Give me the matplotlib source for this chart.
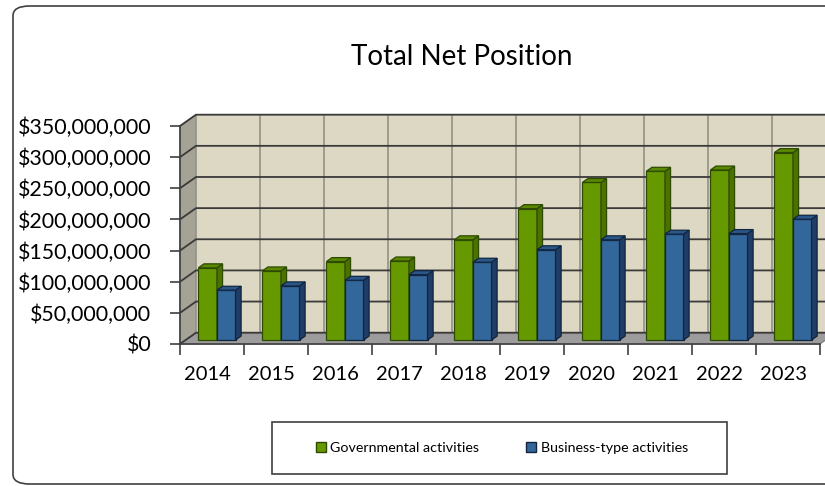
import matplotlib.pyplot as plt
from matplotlib.patches import Polygon, Rectangle, FancyBboxPatch, Patch
import numpy as np

years = ["2014", "2015", "2016", "2017", "2018", "2019", "2020", "2021", "2022", "2023"]
governmental = [116e6, 111e6, 126e6, 127e6, 161e6, 211e6, 253e6, 271e6, 273e6, 301e6]
business = [80e6, 87e6, 96e6, 105e6, 125e6, 145e6, 161e6, 170e6, 171e6, 194e6]
y_ticks = [0, 50e6, 100e6, 150e6, 200e6, 250e6, 300e6, 350e6]

green = ("#669900", "#4b7200", "#5a8800", "#2e4a00")   # front, side, top, edge
blue = ("#336699", "#1f3d66", "#2a5789", "#12263f")

plt.rcParams['font.family'] = ['Lato', 'DejaVu Sans']

W, H = 825, 486
fig = plt.figure(figsize=(W / 100, H / 100), dpi=100)

# outer chart frame
fig.patches.append(FancyBboxPatch((13 / W, 1 - 484 / H), 830 / W, 478 / H,
                                  boxstyle="round,pad=0,rounding_size=0.02",
                                  transform=fig.transFigure, fill=False,
                                  edgecolor="#404040", linewidth=1.2))

# plot area laid out in pixels: category step 64px, 50M step ~31.14px
px_cat = 64.0
px_val = 218.0 / 350e6
ax_l, ax_r, ax_b, ax_t = 150, 825, 360, 100
ax = fig.add_axes([ax_l / W, 1 - ax_b / H, (ax_r - ax_l) / W, (ax_b - ax_t) / H])
ax.set_xlim((ax_l - 180) / px_cat - 0.5, (ax_r - 180) / px_cat - 0.5)
ax.set_ylim(-(ax_b - 344) / px_val, (344 - ax_t) / px_val)
ax.patch.set_alpha(0)

n = len(years)
x0, x1 = -0.5, n - 0.5
top = y_ticks[-1]
# depth of the box (16px right, 11.3px up)
dx = 16 / px_cat
dy = 11.3 / px_val

# walls and floor
ax.add_patch(Polygon([(x0, 0), (x1, 0), (x1 + dx, dy), (x0 + dx, dy)],
                     facecolor="#9c9c9c", edgecolor="#7a7a7a", lw=0.8, zorder=1))
ax.add_patch(Polygon([(x0, 0), (x0 + dx, dy), (x0 + dx, top + dy), (x0, top)],
                     facecolor="#a5a395", edgecolor="#7a786c", lw=0.8, zorder=1))
ax.add_patch(Rectangle((x0 + dx, dy), x1 - x0, top, facecolor="#ddd8c4",
                       edgecolor="none", zorder=1))

# gridlines on the back and side walls
for k in range(n + 1):
    ax.plot([x0 + dx + k] * 2, [dy, top + dy], color="#9a968a", lw=1.3, zorder=2)
for v in y_ticks:
    ax.plot([x0, x0 + dx, x1 + dx], [v, v + dy, v + dy], color="#3a3a3a",
            lw=1.3, zorder=2)

# 3D bars: front face from ax.bar, side and top faces from the same values
bw = 0.29
fx, fy = 0.35 * dx, 0.35 * dy     # bar front plane depth
bx, by = 0.35 * dx, 0.35 * dy     # bar thickness
xs = np.arange(n)
for i in range(n):
    for left, h, c in [(xs[i] - 0.30, governmental[i], green),
                       (xs[i] - 0.01, business[i], blue)]:
        l = left + fx
        b = fy
        r = l + bw
        ax.bar(l, h, width=bw, bottom=b, align="edge", color=c[0],
               edgecolor=c[3], lw=0.9, zorder=3)
        ax.add_patch(Polygon([(r, b), (r + bx, b + by), (r + bx, b + h + by), (r, b + h)],
                             facecolor=c[1], edgecolor=c[3], lw=0.9, zorder=3))
        ax.add_patch(Polygon([(l, b + h), (l + bx, b + h + by), (r + bx, b + h + by), (r, b + h)],
                             facecolor=c[2], edgecolor=c[3], lw=0.9, zorder=3))

# axes
for s in ["top", "right"]:
    ax.spines[s].set_visible(False)
ax.spines["left"].set_position(("data", x0))
ax.spines["bottom"].set_position(("data", 0))
ax.spines["left"].set_bounds(0, top)
ax.spines["bottom"].set_bounds(x0, x1)
for s in ["left", "bottom"]:
    ax.spines[s].set_color("#404040")
    ax.spines[s].set_linewidth(1.2)
    ax.spines[s].set_zorder(4)

ax.set_yticks(y_ticks)
ax.set_yticklabels(["$0"] + ["${:,.0f}".format(v) for v in y_ticks[1:]])
ax.tick_params(axis="y", direction="out", length=7, width=1.2, color="#404040",
               pad=13.5, labelsize=15.4)
ax.set_xticks(np.arange(n + 1) - 0.5)
ax.set_xticklabels([])
ax.set_xticks(xs - 0.07, minor=True)
ax.set_xticklabels(years, minor=True)
ax.tick_params(axis="x", which="major", direction="out", length=8, width=1.2,
               color="#404040")
ax.tick_params(axis="x", which="minor", length=0, pad=16, labelsize=14.5)

fig.text(462 / W, 1 - 57 / H, "Total Net Position", ha="center", va="center",
         fontsize=20)

# legend box
fig.patches.append(Rectangle((272 / W, 1 - 474 / H), 455 / W, 52 / H,
                             transform=fig.transFigure, fill=False,
                             edgecolor="#404040", linewidth=1.2))
handles = [Patch(facecolor=green[0], edgecolor=green[3], label="Governmental activities"),
           Patch(facecolor=blue[0], edgecolor=blue[3], label="Business-type activities")]
fig.legend(handles=handles, loc="center", bbox_to_anchor=(502 / W, 1 - 448 / H),
           ncol=2, frameon=False, fontsize=10.3, handlelength=0.7, handleheight=0.7,
           handletextpad=0.3, columnspacing=3.3)

fig.savefig("out.png", dpi=100)
